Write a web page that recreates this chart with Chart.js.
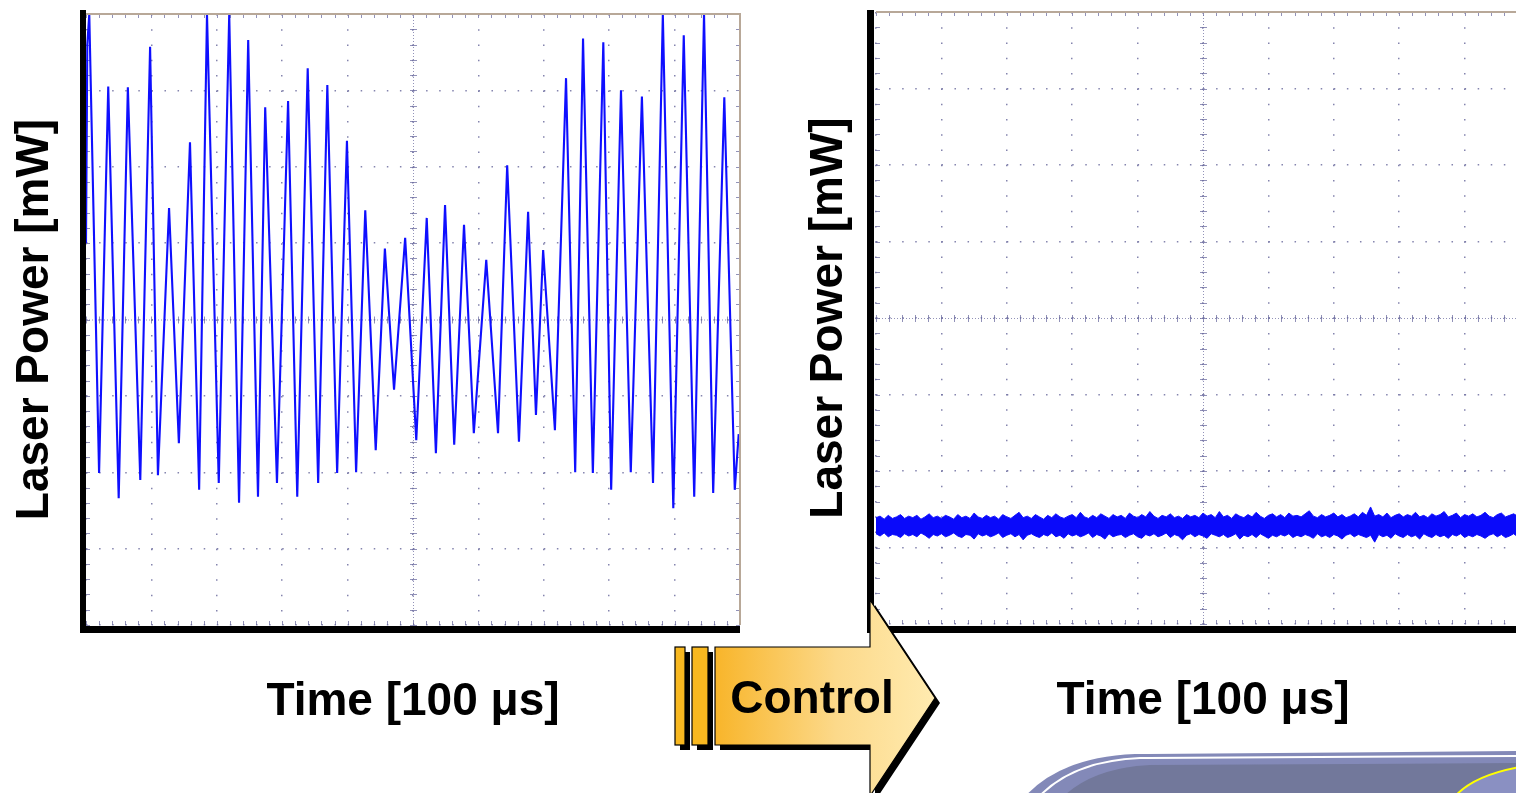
<!DOCTYPE html>
<html>
<head>
<meta charset="utf-8">
<script src="https://cdn.jsdelivr.net/npm/chart.js@4.4.1/dist/chart.umd.min.js"></script>
<style>
  html, body { margin: 0; padding: 0; width: 1516px; height: 793px; overflow: hidden; background: #fff; }
  #c1 { position: absolute; left: 0; top: 0; }
  #c2 { position: absolute; left: 790px; top: 0; }
  #deco { position: absolute; left: 0; top: 0; z-index: 5; }
</style>
</head>
<body>
<canvas id="c1" width="760" height="740"></canvas>
<canvas id="c2" width="760" height="740"></canvas>
<svg id="deco" width="1516" height="793" viewBox="0 0 1516 793">
  <defs>
    <linearGradient id="ag" x1="715" y1="0" x2="935" y2="0" gradientUnits="userSpaceOnUse">
      <stop offset="0" stop-color="#F8B52A"/>
      <stop offset="0.55" stop-color="#FCD98A"/>
      <stop offset="1" stop-color="#FFEBB0"/>
    </linearGradient>
  </defs>
  <!-- callout shape bottom right -->
  <path d="M1022,800 Q1058,757 1135,754 L1520,751 L1520,800 Z" fill="#8389B8"/>
  <path d="M1036,800 Q1070,761 1140,758 L1520,756" fill="none" stroke="#ffffff" stroke-width="2"/>
  <path d="M1060,800 Q1090,768 1150,765 L1520,763 L1520,800 Z" fill="#72789B"/>
  <path d="M1452,800 Q1470,776 1520,767 L1520,800 Z" fill="#8A90C2"/>
  <path d="M1452,800 Q1470,776 1520,767" fill="none" stroke="#FFFF00" stroke-width="2"/>
  <!-- control arrow shadow -->
  <g fill="#000">
    <rect x="680" y="652" width="10" height="98"/>
    <rect x="697" y="652" width="16" height="98"/>
    <polygon points="720,652 875,652 875,605 940,703 875,801 875,750 720,750"/>
  </g>
  <rect x="675" y="647" width="10" height="98" fill="#F8B820" stroke="#000" stroke-width="1.2"/>
  <rect x="692" y="647" width="16" height="98" fill="#F8B820" stroke="#000" stroke-width="1.2"/>
  <polygon points="715,647 870,647 870,600 935,698 870,796 870,745 715,745" fill="url(#ag)" stroke="#000" stroke-width="1.2"/>
  <text x="812" y="713" text-anchor="middle" font-family="'Liberation Sans', Arial, sans-serif" font-weight="bold" font-size="46" fill="#000">Control</text>
</svg>
<script>
// ---- data (x in time divisions, y in vertical divisions) ----
const xTickLabels = ['0','1','2','3','4','5','6','7','8','9','10'];
const yTickLabels = ['0','1','2','3','4','5','6','7','8'];

// Left trace: uncontrolled laser power (peaks and troughs)
const leftTime  = [0.00,0.02,0.05,0.20,0.34,0.50,0.64,0.83,0.98,1.10,
                   1.27,1.42,1.59,1.73,1.85,2.03,2.19,2.34,2.48,2.63,
                   2.74,2.92,3.09,3.23,3.39,3.55,3.69,3.84,3.99,4.13,
                   4.27,4.43,4.57,4.71,4.88,5.05,5.21,5.35,5.49,5.63,
                   5.78,5.93,6.12,6.30,6.44,6.62,6.76,6.88,6.99,7.17,
                   7.34,7.48,7.60,7.75,7.91,8.03,8.18,8.33,8.50,8.67,
                   8.82,8.98,9.14,9.30,9.45,9.59,9.76,9.92,9.98];
const leftPower = [5.0,7.6,8.0,1.99,7.05,1.66,7.04,1.90,7.57,1.96,
                   5.46,2.38,6.32,1.77,8.0,1.86,8.0,1.60,7.66,1.68,
                   6.78,1.86,6.86,1.68,7.29,1.86,7.07,1.99,6.34,2.00,
                   5.43,2.29,4.93,3.08,5.07,2.42,5.33,2.25,5.50,2.36,
                   5.24,2.51,4.78,2.51,6.02,2.40,5.41,2.75,4.91,2.55,
                   7.16,2.00,7.68,1.99,7.63,1.77,7.00,2.00,6.92,1.86,
                   8.0,1.53,7.72,1.68,8.0,1.73,6.91,1.77,2.5];

// Right trace: controlled laser power, noise band (upper / lower envelope, one sample per rightStep)
const rightStep = 0.0625;
const rightUpper = [1.39,1.41,1.37,1.42,1.38,1.40,1.43,1.38,1.41,1.39,
                    1.42,1.37,1.40,1.44,1.39,1.41,1.38,1.42,1.40,1.37,
                    1.43,1.39,1.41,1.38,1.45,1.40,1.38,1.42,1.39,1.41,
                    1.37,1.43,1.40,1.38,1.42,1.46,1.39,1.41,1.38,1.43,
                    1.40,1.37,1.42,1.39,1.44,1.40,1.38,1.41,1.43,1.39,
                    1.46,1.40,1.38,1.42,1.39,1.44,1.41,1.38,1.43,1.40,
                    1.42,1.38,1.45,1.41,1.39,1.43,1.40,1.47,1.41,1.38,
                    1.42,1.40,1.44,1.39,1.41,1.38,1.43,1.40,1.42,1.39,
                    1.45,1.41,1.43,1.39,1.47,1.40,1.42,1.38,1.44,1.41,
                    1.39,1.43,1.40,1.46,1.41,1.38,1.42,1.44,1.40,1.43,
                    1.39,1.45,1.41,1.42,1.40,1.44,1.48,1.41,1.39,1.43,
                    1.40,1.42,1.45,1.40,1.43,1.39,1.41,1.44,1.40,1.46,
                    1.42,1.53,1.41,1.43,1.40,1.45,1.39,1.42,1.44,1.40,
                    1.43,1.41,1.46,1.40,1.42,1.39,1.44,1.41,1.43,1.47,
                    1.40,1.42,1.45,1.39,1.43,1.41,1.44,1.40,1.42,1.46,
                    1.41,1.39,1.43,1.45,1.40,1.42,1.44,1.41,1.43,1.40,
                    1.42];
const rightLower = [1.18,1.15,1.19,1.14,1.17,1.16,1.13,1.18,1.15,1.17,
                    1.14,1.19,1.16,1.12,1.17,1.15,1.18,1.14,1.16,1.19,
                    1.15,1.13,1.17,1.16,1.11,1.18,1.15,1.17,1.14,1.16,
                    1.19,1.13,1.16,1.18,1.14,1.17,1.10,1.16,1.18,1.15,
                    1.13,1.17,1.15,1.19,1.14,1.16,1.12,1.18,1.15,1.17,
                    1.14,1.16,1.19,1.13,1.17,1.15,1.11,1.18,1.14,1.16,
                    1.17,1.13,1.16,1.18,1.14,1.12,1.17,1.15,1.18,1.14,
                    1.16,1.19,1.13,1.17,1.15,1.10,1.16,1.18,1.14,1.17,
                    1.15,1.12,1.18,1.16,1.14,1.17,1.13,1.15,1.18,1.11,
                    1.16,1.14,1.17,1.13,1.18,1.15,1.12,1.16,1.14,1.17,
                    1.15,1.18,1.13,1.16,1.14,1.17,1.15,1.12,1.18,1.14,
                    1.16,1.13,1.17,1.15,1.11,1.16,1.18,1.14,1.17,1.15,
                    1.13,1.16,1.07,1.17,1.14,1.16,1.12,1.18,1.15,1.13,
                    1.17,1.14,1.16,1.11,1.18,1.15,1.13,1.17,1.14,1.16,
                    1.12,1.17,1.15,1.18,1.13,1.16,1.14,1.17,1.15,1.12,
                    1.16,1.18,1.14,1.17,1.13,1.15,1.18,1.14,1.16,1.15,
                    1.17];

const yTitle = 'Laser Power [mW]';
const xTitle = 'Time [100 \u03bcs]';

// ---- oscilloscope frame plugin (decoration relative to chart area) ----
const scopeFrame = {
  id: 'scopeFrame',
  beforeDatasetsDraw(chart, args, o) {
    const {ctx, chartArea: a, scales: {x, y}} = chart;
    const xc = x.getPixelForValue((x.min + x.max) / 2);
    const yc = y.getPixelForValue((y.min + y.max) / 2);
    ctx.save();
    ctx.strokeStyle = 'rgba(110,110,160,0.75)';
    ctx.lineWidth = 1;
    ctx.setLineDash([1, 2]);
    ctx.beginPath();
    ctx.moveTo(xc + 0.5, a.top); ctx.lineTo(xc + 0.5, a.bottom);
    ctx.moveTo(a.left, yc + 0.5); ctx.lineTo(a.right, yc + 0.5);
    ctx.stroke();
    ctx.setLineDash([]);
    ctx.beginPath();
    const xStep = (x.max - x.min) / 50, yStep = (y.max - y.min) / 40;
    for (let i = 0; i <= 50; i++) {
      const px = Math.round(x.getPixelForValue(x.min + i * xStep)) + 0.5;
      ctx.moveTo(px, yc - 3); ctx.lineTo(px, yc + 4);
      ctx.moveTo(px, a.top); ctx.lineTo(px, a.top + 4);
      ctx.moveTo(px, a.bottom); ctx.lineTo(px, a.bottom - 4);
    }
    for (let i = 0; i <= 40; i++) {
      const py = Math.round(y.getPixelForValue(y.min + i * yStep)) + 0.5;
      ctx.moveTo(xc - 3, py); ctx.lineTo(xc + 4, py);
      ctx.moveTo(a.left, py); ctx.lineTo(a.left + 4, py);
      ctx.moveTo(a.right, py); ctx.lineTo(a.right - 4, py);
    }
    ctx.stroke();
    ctx.restore();
  },
  afterDraw(chart, args, o) {
    const {ctx, chartArea: a} = chart;
    ctx.save();
    ctx.strokeStyle = '#B8A898';
    ctx.lineWidth = 2;
    ctx.beginPath();
    ctx.moveTo(a.left, a.top); ctx.lineTo(a.right, a.top); ctx.lineTo(a.right, a.bottom);
    ctx.stroke();
    ctx.fillStyle = '#000';
    ctx.fillRect(a.left - o.lx, a.top - o.ty, o.lw, a.bottom + o.bb + o.bh - (a.top - o.ty));
    ctx.fillRect(a.left - o.lx, a.bottom + o.bb, a.right - (a.left - o.lx), o.bh);
    ctx.restore();
  }
};

const titleFont = { family: "'Liberation Sans', Arial, sans-serif", size: 46, weight: 'bold', lineHeight: 1.2 };

function scopeScales(yPad, xPad) {
  return {
    x: {
      type: 'linear', min: 0, max: 10,
      afterBuildTicks: s => { s.ticks = xTickLabels.map(v => ({ value: Number(v) })); },
      ticks: { display: false },
      grid: { color: 'rgba(110,110,160,0.85)', lineWidth: 1.5, drawTicks: false },
      border: { display: false, dash: [1.5, 13.78] },
      title: { display: true, text: xTitle, color: '#000', font: titleFont, padding: xPad }
    },
    y: {
      type: 'linear', min: 0, max: 8,
      afterBuildTicks: s => { s.ticks = yTickLabels.map(v => ({ value: Number(v) })); },
      ticks: { display: false },
      grid: { color: 'rgba(110,110,160,0.85)', lineWidth: 1.5, drawTicks: false },
      border: { display: false, dash: [1.5, 11.58] },
      title: { display: true, text: yTitle, color: '#000', font: titleFont, padding: yPad }
    }
  };
}

new Chart(document.getElementById('c1'), {
  type: 'line',
  data: {
    datasets: [{
      label: 'Uncontrolled',
      data: leftTime.map((t, i) => ({ x: t, y: leftPower[i] })),
      borderColor: 'rgb(15,15,255)', borderWidth: 2.1,
      pointRadius: 0, tension: 0, clip: 0, fill: false
    }]
  },
  options: {
    responsive: false, animation: false,
    layout: { padding: { left: 0, top: 14, right: 20, bottom: 0 } },
    plugins: { legend: { display: false }, tooltip: { enabled: false },
               scopeFrame: { lx: 6, lw: 6, ty: 4, bb: 1, bh: 7 } },
    scales: scopeScales({ top: 8, bottom: 22.8 }, { top: 50, bottom: 9.8 })
  },
  plugins: [scopeFrame]
});

new Chart(document.getElementById('c2'), {
  type: 'line',
  data: {
    datasets: [{
      label: 'Controlled upper',
      data: rightUpper.map((v, i) => ({ x: i * rightStep, y: v })),
      borderColor: 'rgb(15,15,255)', borderWidth: 1,
      backgroundColor: 'rgb(10,10,250)',
      pointRadius: 0, tension: 0, clip: 0, fill: '+1'
    }, {
      label: 'Controlled lower',
      data: rightLower.map((v, i) => ({ x: i * rightStep, y: v })),
      borderColor: 'rgb(15,15,255)', borderWidth: 1,
      pointRadius: 0, tension: 0, clip: 0, fill: false
    }]
  },
  options: {
    responsive: false, animation: false,
    layout: { padding: { left: 0, top: 12, right: 20, bottom: 0 } },
    plugins: { legend: { display: false }, tooltip: { enabled: false },
               filler: { propagate: false },
               scopeFrame: { lx: 9, lw: 7, ty: 2, bb: 2, bh: 7 } },
    scales: scopeScales({ top: 11.4, bottom: 19.4 }, { top: 50, bottom: 10.8 })
  },
  plugins: [scopeFrame]
});
</script>
</body>
</html>
